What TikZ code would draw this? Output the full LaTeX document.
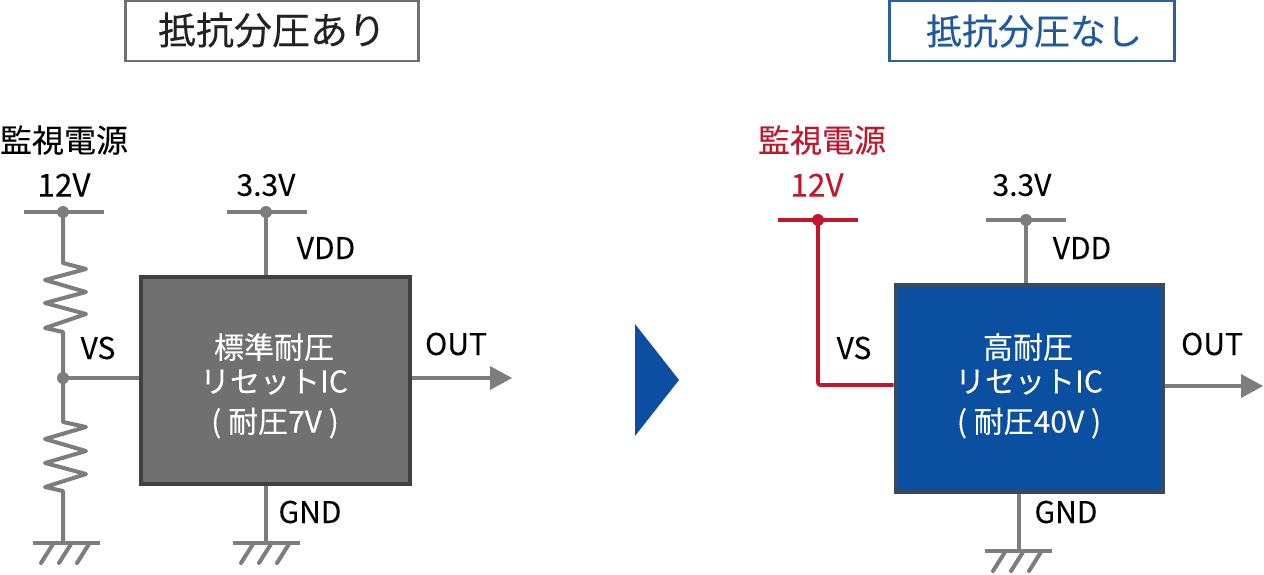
\documentclass[tikz,border=0pt]{standalone}
\usepackage{fontspec}
\setmainfont[FakeBold=0.12]{Noto Sans CJK JP}
\usetikzlibrary{calc}
\definecolor{wiregray}{HTML}{7D7D7D}
\definecolor{icgray}{HTML}{707070}
\definecolor{icedge}{HTML}{404040}
\definecolor{icblue}{HTML}{0B50A0}
\definecolor{icblueedge}{HTML}{3A4A5E}
\definecolor{supplyred}{HTML}{C0172D}
\definecolor{titlegray}{HTML}{707070}
\definecolor{titleblue}{HTML}{2A5FA5}
\definecolor{titletext}{HTML}{222222}
\definecolor{titlebluetext}{HTML}{1F5AA0}
\definecolor{arrowblue}{HTML}{0B4EA2}
\tikzset{
  x=1pt,y=-1pt,
  wire/.style={draw=wiregray,line width=4pt},
  redwire/.style={draw=supplyred,line width=3.6pt,line join=round},
  zig/.style={draw=wiregray,line width=4pt,line join=round},
  dot/.style={circle,fill=wiregray,inner sep=0pt,minimum size=12pt},
  reddot/.style={circle,fill=supplyred,inner sep=0pt,minimum size=12pt},
  lbl/.style={inner sep=0pt,font=\fontsize{30}{32}\selectfont,text=black},
  vlbl/.style={inner sep=0pt,font=\fontsize{31.5}{32}\selectfont,text=black},
  bigjp/.style={inner sep=0pt,font=\fontsize{32}{34}\selectfont,text=black},
  icbox/.style={rectangle,inner sep=0pt,minimum height=207pt,line width=4pt},
  ictext/.style={inner sep=0pt,font=\fontsize{30}{32}\selectfont,text=white},
  titlebox/.style={rectangle,fill=white,inner sep=0pt,minimum height=60pt,line width=2.4pt},
  tip/.style={fill=wiregray,draw=none},
}
\begin{document}
\begin{tikzpicture}
\useasboundingbox (0,0) rectangle (1264,574);
\fill[white] (0,0) rectangle (1264,574);

% titles
\node[titlebox,draw=titlegray,minimum width=293pt] (t1) at (272,31) {};
\node[font=\fontsize{38}{40}\selectfont,text=titletext,inner sep=0pt] (t1t) at (272,30) {抵抗分圧あり};
\node[titlebox,draw=titleblue,minimum width=285pt] (t2) at (1032,31) {};
\node[font=\fontsize{36}{38}\selectfont,text=titlebluetext,inner sep=0pt] (t2t) at (1034,31) {抵抗分圧なし};

% left IC
\node[icbox,minimum width=269pt,fill=icgray,draw=icedge] (ic1) at (275.5,380.5) {};
\node[ictext] (ic1a) at (274,347) {標準耐圧};
\node[ictext] (ic1b) at (274,382) {リセットIC};
\node[ictext] (ic1c) at (275,423) {( 耐圧7V )};

\coordinate (a12) at (63,212);
\coordinate (a12l) at (24,212);
\coordinate (a12r) at (104,212);
\coordinate (a33) at (266,212);
\coordinate (a33l) at (227,212);
\coordinate (a33r) at (307,212);
\coordinate (avs) at (63,378);
\coordinate (ag1) at (63,543);
\coordinate (ag1l) at (33,543);
\coordinate (ag1r) at (100,543);
\coordinate (ag2) at (266,543);
\coordinate (ag2l) at (233,543);
\coordinate (ag2r) at (300,543);

\draw[wire] (a12l) -- (a12r);
\draw[wire] (a33l) -- (a33r);
\draw[wire] (a33) -- (a33 |- ic1.north);
\draw[zig] (a12) -- ++(0,51) -- ++(23,6) -- ++(-41,11) -- ++(41,12) -- ++(-41,11) -- ++(41,11) -- ++(-41,14) -- ++(18,4) -- (avs);
\draw[zig] (avs) -- ++(0,44) -- ++(23,5) -- ++(-41,12) -- ++(41,12) -- ++(-41,12) -- ++(41,11) -- ++(-41,13) -- ++(18,4) -- (ag1);
\draw[wire] (avs) -- (avs -| ic1.west);
\draw[wire] (ag1l) -- (ag1r);
\draw[wire] (ag2l) -- (ag2r);
\draw[wire] (ag2) -- (ag2 |- ic1.south);
\foreach \c in {ag1l,ag2l}{
  \draw[wire,line cap=round] ($(\c)+(20,1)$) -- ++(-12,19);
  \draw[wire,line cap=round] ($(\c)+(38,1)$) -- ++(-12,19);
  \draw[wire,line cap=round] ($(\c)+(56,1)$) -- ++(-12,19);
}
\node[dot] (d1) at (a12) {};
\node[dot] (d2) at (a33) {};
\node[dot] (d3) at (avs) {};
\coordinate (aout) at (490,378);
\draw[wire] (ic1.east |- aout) -- (aout);
\fill[tip] (490,366) -- (512,378) -- (490,390) -- cycle;

\node[bigjp] (l1) at (64,140) {監視電源};
\node[vlbl] (l2) at (64,185) {12V};
\node[lbl] (l3) at (266,185) {3.3V};
\node[lbl] (l4) at (326,248) {VDD};
\node[lbl] (l5) at (98,348) {VS};
\node[lbl] (l6) at (456,344) {OUT};
\node[lbl] (l7) at (310,512) {GND};

% arrow between
\fill[arrowblue] (635,324) -- (679,380) -- (635,436) -- cycle;

% right IC
\node[icbox,minimum width=267pt,fill=icblue,draw=icblueedge] (ic2) at (1029,388) {};
\node[ictext] (ic2a) at (1028,347) {高耐圧};
\node[ictext] (ic2b) at (1029,382) {リセットIC};
\node[ictext] (ic2c) at (1029,423) {( 耐圧40V )};

\coordinate (b12) at (818,220);
\coordinate (b12l) at (778,220);
\coordinate (b12r) at (858,220);
\coordinate (b33) at (1026,220);
\coordinate (b33l) at (986,220);
\coordinate (b33r) at (1066,220);
\coordinate (bvs) at (818,385);
\coordinate (bg) at (1019,551);
\coordinate (bgl) at (985,551);
\coordinate (bgr) at (1052,551);

\draw[redwire] (b12l) -- (b12r);
\draw[redwire,rounded corners=2pt] (b12) -- (bvs) -- (bvs -| ic2.west);
\node[reddot] (d4) at (b12) {};
\draw[wire] (b33l) -- (b33r);
\draw[wire] (b33) -- (b33 |- ic2.north);
\node[dot] (d5) at (b33) {};
\draw[wire] (bg) -- (bg |- ic2.south);
\draw[wire] (bgl) -- (bgr);
\draw[wire,line cap=round] ($(bgl)+(20,1)$) -- ++(-12,19);
\draw[wire,line cap=round] ($(bgl)+(38,1)$) -- ++(-12,19);
\draw[wire,line cap=round] ($(bgl)+(56,1)$) -- ++(-12,19);
\coordinate (bout) at (1241,386);
\draw[wire] (ic2.east |- bout) -- (bout);
\fill[tip] (1241,374) -- (1263,386) -- (1241,398) -- cycle;

\node[bigjp,text=supplyred] (r1) at (822,140) {監視電源};
\node[vlbl,text=supplyred] (r2) at (817,185) {12V};
\node[lbl] (r3) at (1022,185) {3.3V};
\node[lbl] (r4) at (1082,248) {VDD};
\node[lbl] (r5) at (854,348) {VS};
\node[lbl] (r6) at (1212,344) {OUT};
\node[lbl] (r7) at (1066,512) {GND};
\end{tikzpicture}
\end{document}
